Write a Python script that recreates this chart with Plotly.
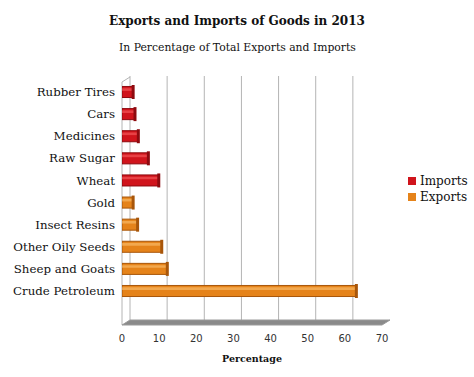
import plotly.graph_objects as go

categories = ["Rubber Tires", "Cars", "Medicines", "Raw Sugar", "Wheat",
              "Gold", "Insect Resins", "Other Oily Seeds", "Sheep and Goats", "Crude Petroleum"]
imports = [3.0, 3.5, 4.4, 7.1, 9.9, None, None, None, None, None]
exports = [None, None, None, None, None, 3.0, 4.2, 10.7, 12.2, 63.1]
x_ticks = [0, 10, 20, 30, 40, 50, 60, 70]
series_names = ["Imports", "Exports"]
series_colors = ["#d0141c", "#e5831a"]
cap_colors = ["#8e0a0f", "#a8560a"]

W, H = 474, 377
L, R, T, B = 122, 382, 75, 325  # plot area in pixels
DX, DY = 8, 5  # 3D depth offset


def px(x):
    return (x - L) / (R - L)


def py(y):
    return (B - y) / (B - T)


fig = go.Figure()

for vals, name, col, cap in zip([imports, exports], series_names, series_colors, cap_colors):
    fig.add_trace(go.Bar(
        y=categories, x=vals, orientation="h", name=name,
        width=0.5, marker=dict(color=col, line=dict(color=cap, width=1)),
    ))
# highlight strips to suggest cylinders
fig.add_trace(go.Bar(
    y=categories, x=imports, orientation="h", showlegend=False, hoverinfo="skip",
    width=0.12, offset=-0.17, marker=dict(color="rgba(255,110,110,0.5)", line=dict(width=0)),
))
fig.add_trace(go.Bar(
    y=categories, x=exports, orientation="h", showlegend=False, hoverinfo="skip",
    width=0.12, offset=-0.17, marker=dict(color="rgba(255,205,130,0.5)", line=dict(width=0)),
))
# end caps
for vals, cap in zip([imports, exports], cap_colors):
    fig.add_trace(go.Scatter(
        y=categories, x=vals, mode="markers", showlegend=False, hoverinfo="skip",
        marker=dict(symbol="line-ns", size=10, line=dict(width=3, color=cap)),
    ))

shapes = []
grid_col = "#b4b4b4"
for t in x_ticks:
    shapes.append(dict(type="line", xref="x", xsizemode="pixel", xanchor=t, x0=DX, x1=DX,
                       yref="paper", y0=py(B - DY), y1=py(T + 1), layer="below",
                       line=dict(color=grid_col, width=1)))
# left wall
shapes.append(dict(type="line", xref="paper", yref="paper", x0=px(L), x1=px(L),
                   y0=py(B), y1=py(T + 7), layer="below", line=dict(color=grid_col, width=1)))
shapes.append(dict(type="line", xref="paper", yref="paper", x0=px(L), x1=px(L + DX),
                   y0=py(T + 7), y1=py(T + 2), layer="below", line=dict(color=grid_col, width=1)))
# floor
shapes.append(dict(type="path", xref="paper", yref="paper", layer="below",
                   path=f"M {px(L)} {py(B)} L {px(R)} {py(B)} L {px(R + DX)} {py(B - DY)} "
                        f"L {px(L + DX)} {py(B - DY)} Z",
                   fillcolor="#8a8a8a", line=dict(color="#9a9a9a", width=1)))

annotations = [dict(text="In Percentage of Total Exports and Imports", xref="paper", yref="paper",
                    x=px(W / 2), y=py(48), xanchor="center", yanchor="middle", showarrow=False,
                    font=dict(family="DejaVu Serif", size=10.8, color="#111"))]
# manual legend
for i, (name, col) in enumerate(zip(series_names, series_colors)):
    yc = 181 + 16 * i
    shapes.append(dict(type="rect", xref="paper", yref="paper",
                       x0=px(408), x1=px(416), y0=py(yc + 4), y1=py(yc - 4),
                       fillcolor=col, line=dict(width=0)))
    annotations.append(dict(text=name, xref="paper", yref="paper", x=px(418), y=py(yc),
                            xanchor="left", yanchor="middle", showarrow=False,
                            font=dict(family="DejaVu Serif", size=12, color="#111")))

fig.update_layout(
    width=W, height=H,
    margin=dict(l=L, r=W - R, t=T, b=H - B, autoexpand=False),
    paper_bgcolor="white", plot_bgcolor="white",
    barmode="overlay",
    showlegend=False,
    font=dict(family="DejaVu Serif", color="#111"),
    title=dict(text="<b>Exports and Imports of Goods in 2013</b>", x=0.5, xanchor="center",
               xref="container", y=1 - 21 / H, yanchor="middle", yref="container",
               font=dict(family="DejaVu Serif", size=12, color="#111")),
    xaxis=dict(range=[0, 70], tickvals=x_ticks, showgrid=False, zeroline=False,
               showline=False, ticks="", ticklabelstandoff=6, automargin=False,
               tickfont=dict(family="DejaVu Sans", size=10, color="#333"),
               title=dict(text="<b>Percentage</b>", standoff=12,
                          font=dict(family="DejaVu Serif", size=9.5, color="#111"))),
    yaxis=dict(categoryorder="array", categoryarray=categories,
               range=[9 + (B - 291) / 22.11, (T - 92) / 22.11],
               showgrid=False, zeroline=False, showline=False, ticks="",
               ticklabelstandoff=6, automargin=False,
               tickfont=dict(family="DejaVu Serif", size=11.8, color="#111")),
    shapes=shapes,
    annotations=annotations,
)

fig.write_html("out.html", config={"displayModeBar": False},
               post_script="document.body.style.margin='0';")
